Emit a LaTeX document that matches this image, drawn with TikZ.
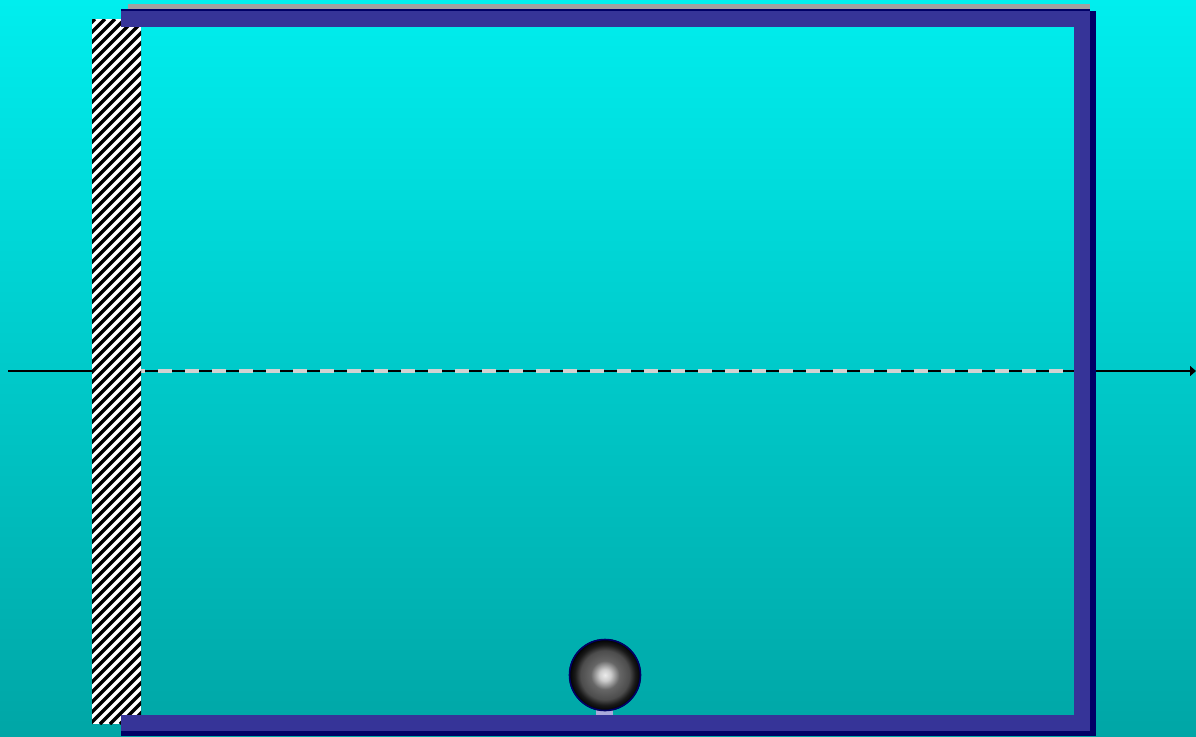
\documentclass[tikz,border=0pt]{standalone}
\usetikzlibrary{arrows.meta}
\definecolor{frameblue}{RGB}{54,52,152}
\definecolor{framedark}{RGB}{0,0,102}
\definecolor{bgtop}{RGB}{0,238,238}
\definecolor{bgbottom}{RGB}{0,166,166}
\definecolor{railgray}{RGB}{160,160,160}
\definecolor{dashgray}{RGB}{210,210,210}
\definecolor{stubpurple}{RGB}{170,170,220}
\pgfdeclareradialshading{ballshade}{\pgfpoint{0bp}{0bp}}{%
color(0bp)=(white!85!gray); color(4bp)=(white!60!gray); color(10bp)=(gray!80!black);
color(17bp)=(black!70); color(21bp)=(black!90); color(25bp)=(black); color(50bp)=(black)}

\begin{document}
\begin{tikzpicture}[%
x=0.5pt,y=-0.5pt,
]
\useasboundingbox (0,0) rectangle (1196,736);
%% background;
\shade [top color=bgtop, bottom color=bgbottom] (0,0) rectangle (1196,736);
%% axis;
\coordinate (axisL) at (8,371);
\coordinate (axisR) at (1196,371);
\draw [color=black, line width=1pt, -{Triangle[length=3pt,width=5pt]}] (axisL) -- (axisR);
%% dashed line;
\draw [color=black, line width=1pt] (141,371) -- (1074,371);
\draw [color=dashgray, line width=1.8pt, dash pattern=on 7pt off 6.5pt, dash phase=5pt] (141,371) -- (1074,371);
%% wall;
\begin{scope}
\clip (92,19) rectangle (141,724);
\fill [white] (92,19) rectangle (141,724);
\foreach \s in {-620,-610,...,150}
  \draw [color=black, line width=1.7pt] (\s,724) -- (\s+705,19);
\end{scope}
%% rail;
\fill [color=railgray] (128,4) rectangle (1090,9);
%% frame;
\fill [color=framedark] (121,9) rectangle (1090,11);
\fill [color=frameblue] (121,11) rectangle (1090,27);
\fill [color=frameblue] (1074,11) rectangle (1090,731);
\fill [color=frameblue] (121,715) rectangle (1090,731);
\fill [color=framedark] (1090,11) rectangle (1096,736);
\fill [color=framedark] (121,731) rectangle (1096,736);
%% ball;
\fill [color=stubpurple] (596,708) rectangle (613,715);
\shade [shading=ballshade] (605,675) circle (36);
\draw [color=framedark, line width=0.8pt] (605,675) circle (35.5);
\end{tikzpicture}
\end{document}
